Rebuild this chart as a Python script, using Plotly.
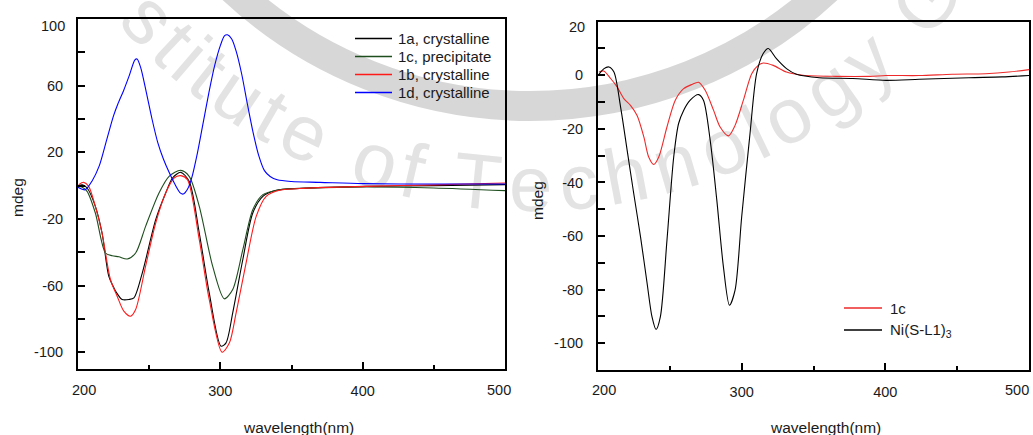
import math
import plotly.graph_objects as go

# ---------------- data (left panel) ----------------
wl_1d = [200, 205, 210, 215, 220, 225, 228, 232, 236, 240, 241.5, 244, 248, 252, 256, 260, 264, 268, 272, 274, 277,
         280, 284, 288, 292, 296, 300, 303, 305, 308, 311, 315, 319, 323, 327, 331, 335, 340, 350, 370, 400, 450, 500]
cd_1d = [-1, -2.5, 3, 12, 27, 42, 49, 57, 66, 75.5, 76, 71, 56, 40, 26, 16, 8, 1, -4.5, -5, -2,
         5, 20, 38, 56, 72, 84, 90, 90.5, 88, 81, 67, 49, 32, 18, 9, 5.5, 3.5, 2.5, 2, 1.2, 1, 1]

wl_1a = [200.5, 203, 206.4, 212.2, 216.9, 221.6, 224.5, 226.4, 231, 235.8, 239.3, 245.2, 254.6, 261.6, 266.4, 272.2,
         278.1, 285.2, 292.2, 300.5, 304, 308.7, 315.8, 322.8, 329.9, 339.3, 355.8, 402.8, 450, 500]
cd_1a = [0, 0.5, -1.4, -12.4, -28.4, -54.3, -60, -63.3, -68.3, -68.3, -67.3, -52.3, -20.4, -4.4, 4.6, 8,
         2.6, -28.4, -64.3, -96.3, -94.3, -76.3, -44.3, -16.4, -6.4, -2.8, -1.6, -0.4, 0, 0.6]

wl_1c = [200.5, 203, 206.4, 212.2, 219.3, 224, 228.7, 234.6, 240.5, 247.5, 256.9, 264, 272.2, 278.1, 285.2,
         294.6, 302.8, 308.7, 315.8, 322.8, 329.9, 341.6, 360, 402.8, 449.9, 500]
cd_1c = [-0.4, -1, -3.4, -16.4, -40.4, -42, -42.7, -44, -40.4, -24.4, -4.4, 5.6, 9.2, 5.6, -12.4,
         -48.3, -67.9, -62.3, -38.4, -14.4, -5.4, -2.4, -1.6, -0.8, -1.4, -3]

wl_1b = [200.5, 204, 207.5, 212.2, 216.9, 222.8, 227.5, 232.2, 236.9, 240.5, 247.5, 254.6, 261.6, 267.5, 272.2,
         276.9, 285.2, 292.2, 301.2, 306.4, 311.1, 318.1, 325.2, 332.2, 341.6, 360, 402.8, 450, 500]
cd_1b = [0.6, 2, -0.4, -12.4, -28.4, -56.3, -66.3, -75.3, -78.3, -74.3, -48.3, -22.4, -4.4, 4.6, 6,
         3.6, -32.4, -68.3, -99.9, -94.3, -76.3, -46.3, -18.4, -6.4, -2.8, -1.5, -0.4, 0.5, 1.6]

# ---------------- data (right panel) ----------------
wl_ni = [200.7, 204.2, 207.6, 211.1, 215.7, 220.3, 224.9, 229.6, 234.2, 237.6, 240.4, 243.4, 248, 252.7, 256.1,
         259.6, 264.2, 270, 273.4, 278.1, 282.7, 287.3, 291.5, 295.4, 300, 305.8, 310.4, 315, 318.5, 324.2,
         331.2, 338.1, 354.3, 377.4, 400.5, 423.6, 458.2, 481.3, 500]
cd_ni = [0.4, 2.5, 3.1, 1.2, -11.8, -28, -44.2, -60.3, -77.7, -90.2, -94.9, -90.2, -61.6, -30.5, -18,
         -13.1, -9.3, -7.2, -9.3, -24.3, -46.6, -71.5, -85.8, -80.2, -52.9, -21.8, 0.6, 8.1, 10, 6.2,
         2.5, 0.4, -0.9, -1.2, -1.9, -1.5, -0.9, -0.6, -0.1]

wl_c = [200.7, 204, 208.8, 213.4, 218, 222.6, 227.2, 231.9, 235.3, 238.8, 242.3, 248, 253.8, 259.6, 265.4, 270,
        274.6, 280.4, 285, 290.8, 295.4, 301.2, 307, 311.5, 315, 322, 331.2, 342.7, 365.8, 389, 400.5, 423.5,
        446.6, 469.7, 486, 500]
cd_c = [1.2, 1.6, -1.2, -4.4, -8.7, -11.2, -15, -23, -30.5, -33.3, -30.5, -19.3, -9.3, -5, -3.4, -2.6,
        -5.6, -13, -19.3, -22.6, -18.7, -9.3, 0.6, 3.7, 4.6, 3.7, 1.2, 0, -0.4, -0.4, -0.1, -0.1,
        0.4, 0.6, 1.2, 2.1]

left_names = ["1a, crystalline", "1c, precipitate", "1b, crystalline", "1d, crystalline"]
right_names = ["1c", "Ni(S-L1)<sub>3</sub>"]
left_yticks = [-100, -60, -20, 20, 60]
right_yticks = [-100, -80, -60, -40, -20, 0]
x_ticks = [300, 400]
watermark_text = "stitute of Technology G"

W, H = 1033, 435
FONT = "Arial, Liberation Sans, sans-serif"
TXT = "#1a1a1a"


def px(x):
    return x / W


def py(y):
    return 1 - y / H


fig = go.Figure()

left_colors = ["#000000", "#1e4d1e", "#ff1a1a", "#0000ff"]
left_series = [(wl_1a, cd_1a), (wl_1c, cd_1c), (wl_1b, cd_1b), (wl_1d, cd_1d)]
for (x, y), c, n in zip(left_series, left_colors, left_names):
    fig.add_trace(go.Scatter(x=x, y=y, name=n, mode="lines", showlegend=False,
                             line=dict(color=c, width=1.1, shape="spline", smoothing=0.8),
                             xaxis="x", yaxis="y"))

right_colors = ["#ee2a2a", "#000000"]
right_series = [(wl_c, cd_c), (wl_ni, cd_ni)]
for (x, y), c, n in zip(right_series, right_colors, right_names):
    fig.add_trace(go.Scatter(x=x, y=y, name=n, mode="lines", showlegend=False,
                             line=dict(color=c, width=1.1, shape="spline", smoothing=0.8),
                             xaxis="x2", yaxis="y2"))

axis_common = dict(showline=True, linecolor="black", linewidth=2, mirror=True,
                   ticks="inside", tickcolor="black", tickwidth=1.5, showgrid=False, zeroline=False,
                   tickfont=dict(family=FONT, size=14.5, color=TXT))


def lbl(vals):
    return [str(v) for v in vals]


fig.update_layout(
    width=W, height=H,
    margin=dict(l=0, r=0, t=0, b=0),
    paper_bgcolor="white", plot_bgcolor="rgba(0,0,0,0)",
    showlegend=False,
    xaxis=dict(domain=[px(78), px(505)], range=[200, 500], anchor="y",
               tickvals=x_ticks, ticktext=lbl(x_ticks), ticklen=7, ticklabelstandoff=8,
               minor=dict(tickvals=[250, 350, 450], ticks="inside", ticklen=4, tickcolor="black", tickwidth=1.5),
               **axis_common),
    yaxis=dict(domain=[py(369), py(19)], range=[-110, 100], anchor="x",
               tickvals=left_yticks, ticktext=lbl(left_yticks), ticklen=7, ticklabelstandoff=10,
               minor=dict(tickvals=[-80, -40, 0, 40, 80], ticks="inside", ticklen=7, tickcolor="black", tickwidth=1.5),
               **axis_common),
    xaxis2=dict(domain=[px(598), px(1029)], range=[200, 500], anchor="y2",
                tickvals=x_ticks, ticktext=lbl(x_ticks), ticklen=7, ticklabelstandoff=8,
                minor=dict(tickvals=[250, 350, 450], ticks="inside", ticklen=4, tickcolor="black", tickwidth=1.5),
                **axis_common),
    yaxis2=dict(domain=[py(370), py(21.7)], range=[-110, 20], anchor="x2",
                tickvals=right_yticks, ticktext=lbl(right_yticks), ticklen=7, ticklabelstandoff=10,
                minor=dict(tickvals=[-90, -70, -50, -30, -10, 10], ticks="inside", ticklen=7,
                           tickcolor="black", tickwidth=1.5),
                **axis_common),
)

shapes = []
# ---- faint watermark (seal ring + arc text) drawn below everything ----
CX, CY, R_RING, R_TXT, R_BASE, WM_ADV, WM_SIZE = 530, -330, 436, 512, 496, 87, 78
shapes.append(dict(type="circle", xref="paper", yref="paper", layer="below",
                   x0=px(CX - R_RING), x1=px(CX + R_RING), y0=py(CY + R_RING), y1=py(CY - R_RING),
                   line=dict(color="#d7d7d7", width=30), fillcolor="rgba(0,0,0,0)"))
adv = {"s": 500, "t": 278, "i": 222, "u": 556, "e": 556, " ": 278, "o": 556, "f": 278, "T": 611,
       "c": 500, "h": 556, "n": 556, "l": 222, "g": 556, "y": 500, "G": 778}
centers = []
acc = 0.0
for ch in watermark_text:
    centers.append(acc + adv[ch] / 2000.0)
    acc += adv[ch] / 1000.0
iT = watermark_text.index("T")
phi_T = -5.8
for ch, cpos in zip(watermark_text, centers):
    if ch == " ":
        continue
    phi = phi_T + math.degrees((cpos - centers[iT]) * WM_ADV / R_BASE)
    xx = CX + R_TXT * math.sin(math.radians(phi))
    yy = -335 + R_TXT * math.cos(math.radians(phi))
    e = 0.0005
    shapes.append(dict(type="rect", xref="paper", yref="paper", layer="below",
                       x0=px(xx) - e, x1=px(xx) + e, y0=py(yy) - e, y1=py(yy) + e,
                       line=dict(width=0, color="rgba(0,0,0,0)"), fillcolor="rgba(0,0,0,0)",
                       label=dict(text=ch, textangle=-phi, textposition="middle center",
                                  font=dict(family=FONT, size=WM_SIZE, color="#e3e3e3"))))

# ---- legends (drawn manually to match spacing) ----
ann = []
leg_font = dict(family=FONT, size=15, color=TXT)
for i, (n, c) in enumerate(zip(left_names, left_colors)):
    yy = 38.5 + 18 * i
    shapes.append(dict(type="line", xref="paper", yref="paper", x0=px(355), x1=px(392), y0=py(yy), y1=py(yy),
                       line=dict(color=c, width=1.3)))
    ann.append(dict(text=n, x=px(396), y=py(yy), xanchor="left", yanchor="middle", font=leg_font))
for i, (n, c) in enumerate(zip(right_names, right_colors)):
    yy = 308 + 22 * i
    shapes.append(dict(type="line", xref="paper", yref="paper", x0=px(844), x1=px(882), y0=py(yy), y1=py(yy),
                       line=dict(color=c, width=1.3)))
    ann.append(dict(text=n, x=px(888), y=py(yy), xanchor="left", yanchor="middle", font=leg_font))

tf = dict(family=FONT, size=14.5, color=TXT)
# edge tick labels (offset inward as in the reference)
ann.append(dict(text="100", x=px(67), y=py(26), xanchor="right", yanchor="middle", font=tf))
ann.append(dict(text="20", x=px(587), y=py(27), xanchor="right", yanchor="middle", font=tf))
ann.append(dict(text="200", x=px(84), y=py(390), xanchor="center", yanchor="middle", font=tf))
ann.append(dict(text="500", x=px(499), y=py(390), xanchor="center", yanchor="middle", font=tf))
ann.append(dict(text="200", x=px(604), y=py(390), xanchor="center", yanchor="middle", font=tf))
ann.append(dict(text="500", x=px(1031), y=py(390), xanchor="right", yanchor="middle", font=tf))
# axis titles
titf = dict(family=FONT, size=15.5, color=TXT)
ann.append(dict(text="mdeg", x=px(17), y=py(198), textangle=-90, xanchor="center", yanchor="middle", font=titf))
ann.append(dict(text="mdeg", x=px(537), y=py(201), textangle=-90, xanchor="center", yanchor="middle", font=titf))
ann.append(dict(text="wavelength(nm)", x=px(298), y=py(427), xanchor="center", yanchor="middle", font=titf))
ann.append(dict(text="wavelength(nm)", x=px(825), y=py(427), xanchor="center", yanchor="middle", font=titf))
for a in ann:
    a.update(xref="paper", yref="paper", showarrow=False)
fig.update_layout(annotations=ann, shapes=shapes)

fig.write_html("out.html", config={"displayModeBar": False},
               post_script="document.body.style.margin='0';")
